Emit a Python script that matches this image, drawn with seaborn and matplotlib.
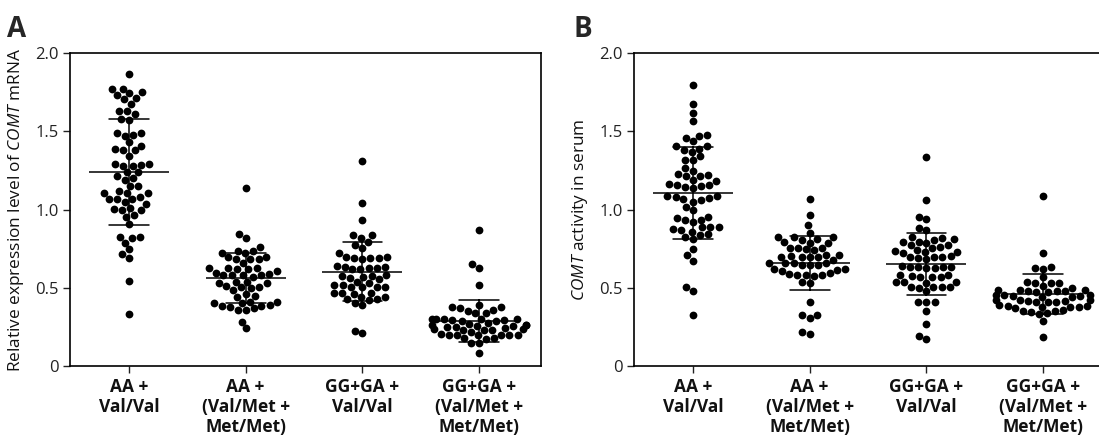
import numpy as np
import pandas as pd
import matplotlib
matplotlib.use("Agg")
import matplotlib.pyplot as plt
import seaborn as sns

# ---------------- data ----------------
categories = ["AA +\nVal/Val", "AA +\n(Val/Met +\nMet/Met)",
              "GG+GA +\nVal/Val", "GG+GA +\n(Val/Met +\nMet/Met)"]
ytick_values = [0, 0.5, 1.0, 1.5, 2.0]
ytick_labels = ["0", "0.5", "1.0", "1.5", "2.0"]

# Panel A: relative expression level of COMT mRNA
mrna_aa_valval = [1.866, 1.77, 1.733, 1.744, 1.748, 1.77, 1.706, 1.712, 1.676, 1.631,
                  1.61, 1.631, 1.574, 1.58, 1.488, 1.488, 1.471, 1.478, 1.429, 1.386,
                  1.377, 1.377, 1.407, 1.343, 1.29, 1.29, 1.275, 1.279, 1.286, 1.237,
                  1.211, 1.2, 1.237, 1.19, 1.151, 1.151, 1.104, 1.104, 1.083, 1.068,
                  1.104, 1.119, 1.036, 1.066, 1.068, 1.047, 1.002, 0.998, 0.998, 1.009,
                  0.955, 0.966, 0.908, 0.827, 0.817, 0.827, 0.789, 0.746, 0.714, 0.687,
                  0.544, 0.333]
mrna_aa_met = [1.136, 0.842, 0.817, 0.759, 0.738, 0.721, 0.721, 0.738, 0.699, 0.682,
               0.695, 0.657, 0.682, 0.682, 0.625, 0.625, 0.618, 0.61, 0.618, 0.625,
               0.597, 0.582, 0.582, 0.571, 0.582, 0.582, 0.588, 0.539, 0.533, 0.512,
               0.507, 0.529, 0.539, 0.497, 0.503, 0.486, 0.461, 0.443, 0.448, 0.401,
               0.412, 0.412, 0.405, 0.384, 0.375, 0.358, 0.358, 0.369, 0.39, 0.384,
               0.284, 0.241]
mrna_gg_valval = [1.311, 1.04, 0.93, 0.834, 0.817, 0.834, 0.791, 0.774, 0.753, 0.689,
                  0.689, 0.699, 0.695, 0.682, 0.721, 0.689, 0.64, 0.635, 0.618, 0.618,
                  0.635, 0.625, 0.625, 0.582, 0.576, 0.571, 0.576, 0.561, 0.554, 0.529,
                  0.518, 0.507, 0.507, 0.539, 0.518, 0.507, 0.503, 0.465, 0.465, 0.461,
                  0.469, 0.439, 0.426, 0.405, 0.39, 0.422, 0.426, 0.439, 0.213, 0.226]
mrna_gg_met = [0.87, 0.625, 0.65, 0.518, 0.39, 0.375, 0.375, 0.358, 0.37, 0.354,
               0.337, 0.34, 0.298, 0.3, 0.29, 0.29, 0.298, 0.298, 0.295, 0.294,
               0.3, 0.273, 0.262, 0.268, 0.262, 0.256, 0.262, 0.256, 0.252, 0.25,
               0.241, 0.23, 0.235, 0.23, 0.235, 0.23, 0.22, 0.198, 0.198, 0.198,
               0.2, 0.205, 0.198, 0.195, 0.177, 0.175, 0.178, 0.145, 0.149, 0.085]

# Panel B: COMT activity in serum
act_aa_valval = [1.793, 1.674, 1.616, 1.563, 1.435, 1.467, 1.456, 1.473, 1.403, 1.403,
                 1.367, 1.382, 1.388, 1.318, 1.318, 1.339, 1.264, 1.247, 1.228, 1.211,
                 1.222, 1.217, 1.179, 1.19, 1.154, 1.147, 1.143, 1.136, 1.154, 1.164,
                 1.083, 1.087, 1.066, 1.072, 1.087, 1.062, 1.047, 1.019, 0.994, 0.945,
                 0.923, 0.934, 0.955, 0.93, 0.885, 0.859, 0.891, 0.874, 0.891, 0.844,
                 0.866, 0.838, 0.81, 0.823, 0.746, 0.71, 0.674, 0.503, 0.482, 0.326]
act_aa_met = [1.068, 0.962, 0.898, 0.849, 0.823, 0.823, 0.823, 0.791, 0.789, 0.802,
              0.81, 0.785, 0.699, 0.753, 0.753, 0.746, 0.753, 0.742, 0.71, 0.699,
              0.704, 0.71, 0.699, 0.699, 0.678, 0.657, 0.657, 0.657, 0.657, 0.646,
              0.646, 0.646, 0.614, 0.618, 0.61, 0.618, 0.582, 0.582, 0.582, 0.597,
              0.576, 0.588, 0.539, 0.533, 0.412, 0.326, 0.326, 0.22, 0.205, 0.309]
act_gg_valval = [1.335, 1.058, 0.938, 0.951, 0.881, 0.866, 0.802, 0.785, 0.823, 0.81,
                 0.817, 0.791, 0.795, 0.774, 0.774, 0.763, 0.742, 0.731, 0.731, 0.738,
                 0.753, 0.721, 0.704, 0.699, 0.693, 0.682, 0.699, 0.695, 0.635, 0.635,
                 0.625, 0.625, 0.635, 0.635, 0.64, 0.576, 0.567, 0.582, 0.567, 0.571,
                 0.582, 0.539, 0.539, 0.533, 0.539, 0.507, 0.507, 0.497, 0.507, 0.507,
                 0.482, 0.412, 0.412, 0.412, 0.354, 0.269, 0.192, 0.173]
act_gg_met = [1.087, 0.721, 0.631, 0.618, 0.625, 0.567, 0.529, 0.529, 0.512, 0.529,
              0.539, 0.497, 0.486, 0.475, 0.482, 0.486, 0.486, 0.482, 0.475, 0.482,
              0.448, 0.454, 0.454, 0.448, 0.443, 0.454, 0.443, 0.412, 0.422, 0.418,
              0.422, 0.412, 0.418, 0.412, 0.422, 0.38, 0.384, 0.38, 0.369, 0.38,
              0.384, 0.39, 0.348, 0.354, 0.358, 0.341, 0.354, 0.333, 0.29, 0.183]

panel_a = [mrna_aa_valval, mrna_aa_met, mrna_gg_valval, mrna_gg_met]
panel_b = [act_aa_valval, act_aa_met, act_gg_valval, act_gg_met]


def to_frame(groups):
    rows = []
    for cat, vals in zip(categories, groups):
        for v in vals:
            rows.append((cat, v))
    return pd.DataFrame(rows, columns=["group", "value"])


# ---------------- style ----------------
sns.set_theme(style="ticks")
plt.rcParams["font.family"] = ["Open Sans", "DejaVu Sans"]
plt.rcParams["mathtext.fontset"] = "custom"
plt.rcParams["mathtext.rm"] = "Open Sans"
plt.rcParams["mathtext.it"] = "Open Sans:italic"

W, H = 1099, 437
fig = plt.figure(figsize=(W / 100, H / 100), dpi=100)

ax_w = 471 / W
ax_h = 313 / H
ax_b = (H - 366) / H
axA = fig.add_axes([70 / W, ax_b, ax_w, ax_h])
axB = fig.add_axes([634 / W, ax_b, ax_w, ax_h])

ylabels = ["Relative expression level of $\\mathit{COMT}$ mRNA",
           "$\\mathit{COMT}$ activity in serum"]

for ax, groups, ylab in zip([axA, axB], [panel_a, panel_b], ylabels):
    df = to_frame(groups)
    sns.pointplot(data=df, x="group", y="value", order=categories, ax=ax,
                  estimator="mean", errorbar="sd", capsize=0.34,
                  linestyle="none", marker="_", markersize=58,
                  markeredgewidth=1.1, color="black",
                  err_kws={"linewidth": 1.1})
    sns.swarmplot(data=df, x="group", y="value", order=categories, ax=ax,
                  color="black", size=5.6, linewidth=0)
    ax.set_xlim(-0.505, 3.53)
    ax.set_ylim(0, 2.0)
    ax.set_yticks(ytick_values)
    ax.set_yticklabels(ytick_labels)
    ax.set_xlabel("")
    ax.set_ylabel(ylab, fontsize=12.4, va="center", color="#111111")
    ax.yaxis.set_label_coords(-54 / 471, 0.5)
    for s in ax.spines.values():
        s.set_visible(True)
        s.set_linewidth(1.2)
        s.set_color("black")
    ax.tick_params(axis="both", direction="out", length=5, width=1.0,
                   color="#222222")
    ax.tick_params(axis="y", labelsize=12, pad=3, labelcolor="#222222")
    ax.tick_params(axis="x", labelsize=12.5, pad=4, labelcolor="#111111")
    for t in ax.get_xticklabels():
        t.set_fontweight("bold")
        t.set_linespacing(1.12)

fig.text(7 / W, 1 - 37 / H, "A", fontsize=20, fontweight="bold",
         ha="left", va="baseline")
fig.text(574 / W, 1 - 37 / H, "B", fontsize=20, fontweight="bold",
         ha="left", va="baseline")

fig.savefig("out.png", dpi=100)
